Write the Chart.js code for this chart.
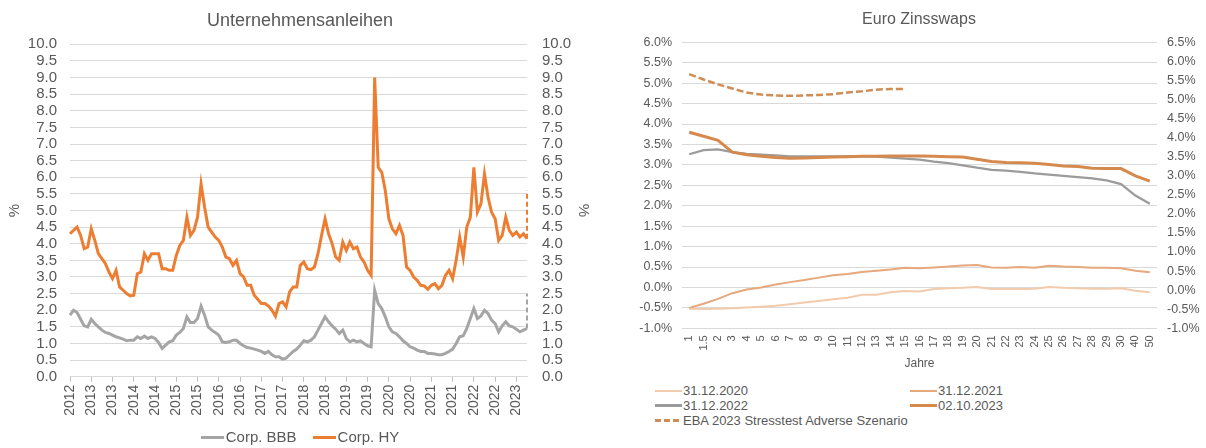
<!DOCTYPE html>
<html>
<head>
<meta charset="utf-8">
<script src="https://cdn.jsdelivr.net/npm/chart.js@4.4.1/dist/chart.umd.min.js"></script>
<style>
  html, body { margin: 0; padding: 0; background: #fff; }
  body { width: 1206px; height: 448px; position: relative; overflow: hidden;
         font-family: "Liberation Sans", Arial, sans-serif; color: #595959; }
  #bonds { position: absolute; left: 0; top: 0; }
  #swaps { position: absolute; left: 632px; top: 0; }
  .legend .item { display: flex; align-items: center; white-space: nowrap; }
  .legend .sample { display: inline-block; margin-right: 2px; }
  #bondsLegend { position: absolute; left: 0; top: 428px; width: 600px; display: flex;
                 justify-content: center; gap: 16px; font-size: 15px; line-height: 18px; }
  #swapsLegend { position: absolute; left: 655px; top: 383px; display: grid;
                 grid-template-columns: 255px 200px; font-size: 13px; line-height: 15px; }
  #swapsLegend .sample { margin-right: 1px; }
</style>
</head>
<body>
<canvas id="bonds" width="600" height="448"></canvas>
<canvas id="swaps" width="574" height="375"></canvas>
<div id="bondsLegend" class="legend"></div>
<div id="swapsLegend" class="legend"></div>
<script>
// Unternehmensanleihen: monatliche Werte (%), erster Wert Okt 2012
const hyValues = [
  4.3, 4.4, 4.5, 4.25, 3.85, 3.9, 4.45, 4.1, 3.7, 3.55,
  3.4, 3.15, 2.95, 3.2, 2.7, 2.6, 2.5, 2.43, 2.45, 3.1,
  3.15, 3.7, 3.5, 3.7, 3.7, 3.7, 3.25, 3.25, 3.2, 3.2,
  3.65, 3.95, 4.1, 4.8, 4.25, 4.4, 4.8, 5.8, 5.1, 4.5,
  4.35, 4.2, 4.1, 3.9, 3.6, 3.55, 3.35, 3.5, 3.1, 3.0,
  2.75, 2.75, 2.45, 2.33, 2.2, 2.2, 2.13, 2.0, 1.82, 2.2,
  2.25, 2.1, 2.55, 2.7, 2.7, 3.35, 3.45, 3.25, 3.22, 3.3,
  3.7, 4.25, 4.75, 4.3, 4.0, 3.6, 3.5, 4.05, 3.8, 4.05,
  3.85, 3.9, 3.6, 3.45, 3.2, 3.05, 9.0, 6.3, 6.15, 5.6,
  4.75, 4.45, 4.3, 4.55, 4.25, 3.3, 3.2, 3.0, 2.9, 2.75,
  2.73, 2.63, 2.75, 2.8, 2.65, 2.75, 3.05, 3.2, 2.95, 3.5,
  4.2, 3.6, 4.5, 4.8, 6.3, 4.95, 5.2, 6.1, 5.4, 4.95,
  4.75, 4.1, 4.25, 4.8, 4.4, 4.25, 4.35, 4.2, 4.3, 4.15
];
const bbbValues = [
  1.85, 2.0, 1.93, 1.73, 1.53, 1.5, 1.73, 1.6, 1.5, 1.4,
  1.33, 1.3, 1.25, 1.2, 1.17, 1.13, 1.08, 1.1, 1.1, 1.2,
  1.15, 1.22, 1.15, 1.2, 1.15, 1.03, 0.85, 0.95, 1.05, 1.08,
  1.25, 1.33, 1.45, 1.8, 1.63, 1.63, 1.75, 2.12, 1.85, 1.5,
  1.4, 1.33, 1.25, 1.05, 1.03, 1.05, 1.1, 1.1, 1.0, 0.93,
  0.88, 0.86, 0.83, 0.8, 0.76, 0.7, 0.76, 0.66, 0.6, 0.6,
  0.53, 0.56, 0.66, 0.76, 0.83, 0.95, 1.08, 1.05, 1.1, 1.2,
  1.4, 1.6, 1.8, 1.65, 1.53, 1.43, 1.3, 1.4, 1.15, 1.05,
  1.1, 1.05, 1.08, 1.0, 0.93, 0.9, 2.6, 2.2, 2.05, 1.8,
  1.5, 1.35, 1.3, 1.2, 1.08, 1.0, 0.9, 0.86, 0.8, 0.76,
  0.76, 0.7, 0.7, 0.68, 0.66, 0.66, 0.7, 0.76, 0.83, 1.0,
  1.2, 1.23, 1.45, 1.75, 2.05, 1.75, 1.83, 2.0, 1.9, 1.7,
  1.6, 1.35, 1.53, 1.65, 1.53, 1.5, 1.43, 1.35, 1.4, 1.45
];
// Stresswerte am Ende der Reihe (gestrichelt)
const stressHY = 5.6;
const stressBBB = 2.5;
const tickYears = ['2012', '2013', '2013', '2014', '2014', '2015', '2015', '2016', '2016', '2017', '2017',
                   '2018', '2018', '2019', '2019', '2020', '2020', '2021', '2021', '2022', '2022', '2023'];
const startYear = 2012;
const startMonth = 10;

// Euro Zinsswaps (%)
const tenors = ['1', '1.5', '2', '3', '4', '5', '6', '7', '8', '9', '10', '11', '12', '13', '14', '15', '16',
                '17', '18', '19', '20', '21', '22', '23', '24', '25', '26', '27', '28', '29', '30', '40', '50'];
const swap2020 = [-0.52, -0.53, -0.52, -0.51, -0.49, -0.47, -0.45, -0.41, -0.37, -0.33, -0.29, -0.25, -0.18,
                  -0.18, -0.12, -0.09, -0.10, -0.04, -0.02, -0.01, 0.01, -0.04, -0.04, -0.04, -0.03, 0.01,
                  -0.01, -0.02, -0.03, -0.03, -0.02, -0.08, -0.12];
const swap2021 = [-0.50, -0.40, -0.28, -0.14, -0.05, 0.00, 0.07, 0.13, 0.18, 0.24, 0.30, 0.33, 0.38,
                  0.41, 0.44, 0.48, 0.47, 0.49, 0.51, 0.54, 0.55, 0.49, 0.48, 0.50, 0.48, 0.53,
                  0.51, 0.50, 0.48, 0.48, 0.47, 0.41, 0.37];
const swap2022 = [3.26, 3.36, 3.38, 3.31, 3.27, 3.25, 3.23, 3.21, 3.21, 3.21, 3.21, 3.21, 3.21,
                  3.20, 3.18, 3.15, 3.13, 3.08, 3.04, 2.99, 2.93, 2.88, 2.86, 2.83, 2.79, 2.76,
                  2.73, 2.70, 2.67, 2.62, 2.53, 2.25, 2.05];
const swap2023 = [3.80, 3.70, 3.60, 3.31, 3.25, 3.21, 3.18, 3.16, 3.17, 3.18, 3.19, 3.20, 3.21,
                  3.21, 3.22, 3.22, 3.22, 3.21, 3.20, 3.19, 3.14, 3.08, 3.06, 3.05, 3.04, 3.01,
                  2.97, 2.96, 2.92, 2.91, 2.91, 2.73, 2.60];
const swapEba = [5.22, 5.09, 4.97, 4.87, 4.77, 4.72, 4.70, 4.69, 4.70, 4.71, 4.73, 4.77, 4.80, 4.84, 4.86, 4.86];

Chart.defaults.font.family = '"Liberation Sans", Arial, sans-serif';
Chart.defaults.color = '#595959';

const gridColor = '#d9d9d9';
const months = hyValues.map((v, i) => {
    const m = startMonth - 1 + i;
    return (startYear + Math.floor(m / 12)) + '-' + String(m % 12 + 1).padStart(2, '0');
});
const lastMonth = months[months.length - 1];

const bondsChart = new Chart(document.getElementById('bonds'), {
    type: 'line',
    data: {
        labels: months,
        datasets: [
            { label: 'Corp. BBB', data: bbbValues, borderColor: '#a5a5a5', borderWidth: 3, pointRadius: 0 },
            { label: 'Corp. HY', data: hyValues, borderColor: '#ed7d31', borderWidth: 3, pointRadius: 0 },
            { label: 'Stress BBB', hideInLegend: true, borderColor: '#a5a5a5', borderWidth: 2, borderDash: [5, 3], pointRadius: 0,
              data: [{ x: lastMonth, y: bbbValues[bbbValues.length - 1] }, { x: lastMonth, y: stressBBB }] },
            { label: 'Stress HY', hideInLegend: true, borderColor: '#ed7d31', borderWidth: 2, borderDash: [5, 3], pointRadius: 0,
              data: [{ x: lastMonth, y: hyValues[hyValues.length - 1] }, { x: lastMonth, y: stressHY }] }
        ]
    },
    options: {
        responsive: false,
        animation: false,
        plugins: {
            legend: { display: false },
            tooltip: { enabled: false },
            title: { display: true, text: 'Unternehmensanleihen', color: '#595959',
                     font: { size: 18, weight: 'normal' }, padding: { top: 10, bottom: 12.7 } }
        },
        scales: {
            x: {
                grid: { drawOnChartArea: false, drawTicks: true, tickLength: 5,
                        color: c => c.index % 6 === 0 ? '#bfbfbf' : 'rgba(0,0,0,0)' },
                border: { display: true, color: gridColor },
                ticks: {
                    autoSkip: false, minRotation: 90, maxRotation: 90, padding: 3,
                    font: { size: 14 },
                    callback: (value, index) => index % 6 === 0 ? tickYears[index / 6] : ''
                },
                afterFit: s => { s.height = 71.3; }
            },
            y: {
                position: 'left', min: 0, max: 10,
                ticks: { stepSize: 0.5, autoSkip: false, padding: 13, font: { size: 15 }, callback: v => v.toFixed(1) },
                grid: { color: gridColor, drawTicks: false },
                border: { display: false },
                title: { display: true, text: '%', font: { size: 15 }, padding: { top: 6 } },
                afterFit: s => { s.width = 70; }
            },
            y2: {
                position: 'right', min: 0, max: 10,
                ticks: { stepSize: 0.5, autoSkip: false, padding: 15, font: { size: 15 }, callback: v => v.toFixed(1) },
                grid: { display: false, drawTicks: false },
                border: { display: false },
                title: { display: true, text: '%', font: { size: 15 }, padding: { top: 8 } },
                afterFit: s => { s.width = 73; }
            }
        }
    }
});

const swapsChart = new Chart(document.getElementById('swaps'), {
    type: 'line',
    data: {
        labels: tenors,
        datasets: [
            { label: '31.12.2020', data: swap2020, borderColor: '#f2cbad', borderWidth: 2, pointRadius: 0, order: 3 },
            { label: '31.12.2021', data: swap2021, borderColor: '#e6a87c', borderWidth: 2, pointRadius: 0, order: 2 },
            { label: '31.12.2022', data: swap2022, borderColor: '#9b9b9b', borderWidth: 2.25, pointRadius: 0, order: 1 },
            { label: '02.10.2023', data: swap2023, borderColor: '#d5894c', borderWidth: 3, pointRadius: 0, order: 0 },
            { label: 'EBA 2023 Stresstest Adverse Szenario', data: swapEba, borderColor: '#cf8c55',
              borderWidth: 2.5, borderDash: [7, 3], pointRadius: 0, order: 0 }
        ]
    },
    options: {
        responsive: false,
        animation: false,
        plugins: {
            legend: { display: false },
            tooltip: { enabled: false },
            title: { display: true, text: 'Euro Zinsswaps', color: '#595959',
                     font: { size: 16, weight: 'normal' }, padding: { top: 10.4, bottom: 12.7 } }
        },
        scales: {
            x: {
                offset: true,
                grid: { display: false, drawTicks: false },
                border: { display: false },
                ticks: { autoSkip: false, minRotation: 90, maxRotation: 90, padding: 7, font: { size: 11 } },
                title: { display: true, text: 'Jahre', font: { size: 12 }, padding: { bottom: 3.8 } },
                afterFit: s => { s.height = 46.7; }
            },
            y: {
                position: 'left', min: -1, max: 6,
                ticks: { stepSize: 0.5, autoSkip: false, padding: 10, font: { size: 12.5 }, callback: v => v.toFixed(1) + '%' },
                grid: { color: gridColor, drawTicks: false },
                border: { display: false },
                afterFit: s => { s.width = 50; }
            },
            y2: {
                position: 'right', min: -1, max: 6.5,
                ticks: { stepSize: 0.5, autoSkip: false, padding: 10, font: { size: 12.5 }, callback: v => v.toFixed(1) + '%' },
                grid: { display: false, drawTicks: false },
                border: { display: false },
                afterFit: s => { s.width = 49; }
            }
        }
    }
});

// HTML-Legende aus den Datensätzen
function buildLegend(chart, el, sampleWidth) {
    chart.data.datasets.filter(d => !d.hideInLegend).forEach(d => {
        const item = document.createElement('div');
        item.className = 'item';
        const line = document.createElement('span');
        line.className = 'sample';
        line.style.width = sampleWidth + 'px';
        line.style.height = d.borderWidth + 'px';
        line.style.background = d.borderDash
            ? 'repeating-linear-gradient(to right, ' + d.borderColor + ' 0 6px, transparent 6px 9px)'
            : d.borderColor;
        item.appendChild(line);
        item.appendChild(document.createTextNode(d.label));
        el.appendChild(item);
    });
}
buildLegend(bondsChart, document.getElementById('bondsLegend'), 23);
buildLegend(swapsChart, document.getElementById('swapsLegend'), 27);
</script>
</body>
</html>
